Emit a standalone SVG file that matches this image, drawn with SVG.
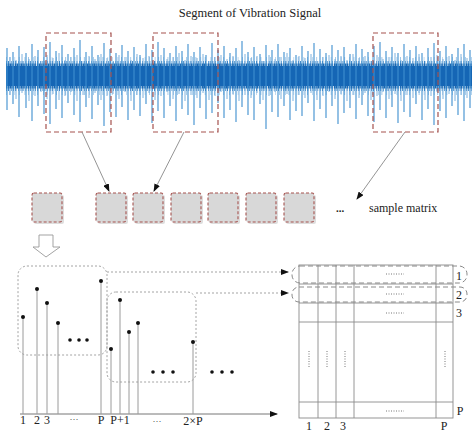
<svg xmlns="http://www.w3.org/2000/svg" width="474" height="432" viewBox="0 0 474 432">
<style>
.t{font-family:"Liberation Serif","Times New Roman",serif;fill:#222}
.sel{fill:none;stroke:#a5524f;stroke-width:1.2;stroke-dasharray:5 3}
.sq{fill:#d8d8d8;stroke:#a5524f;stroke-width:1.1;stroke-dasharray:3 2}
.sh{fill:#c8c8c8;opacity:.6}
.stem{stroke:#9a9a9a;stroke-width:1}
.dot{fill:#111}
.dr{fill:none;stroke:#9a9a9a;stroke-width:0.9;stroke-dasharray:2 2}
.mx{stroke:#8a8a8a;stroke-width:0.9;fill:none}
.rowsel{fill:none;stroke:#8a8a8a;stroke-width:1;stroke-dasharray:5 3}
.cd{stroke:#777;stroke-width:1;stroke-dasharray:1 1.5}
.conn{stroke:#888;stroke-width:0.9;fill:none}
</style>
<defs>
<marker id="ah" markerWidth="8" markerHeight="6" refX="7" refY="3" orient="auto" markerUnits="userSpaceOnUse">
<path d="M0,0 L8,3 L0,6 Z" fill="#111"/>
</marker>
</defs>
<rect width="474" height="432" fill="#fff"/>
<text class="t" x="250" y="17" font-size="12.5" text-anchor="middle">Segment of Vibration Signal</text>
<g id="signal">
<path fill="none" stroke="#5d9fd6" stroke-width="0.8" d="M10 57V95M16 60V99M22 54V93M29 59V101M35 56V96M41 61V92M47 55V99M53 58V94M59 53V100M65 60V96M71 57V92M77 55V101M83 61V95M89 56V98M95 59V93M101 54V100M107 58V96M113 62V94M119 55V99M125 57V92M131 60V101M137 54V95M143 58V98M149 56V93M155 61V100M161 55V96M167 59V92M173 57V99M179 53V94M185 60V101M191 56V95M197 58V98M203 54V93M209 61V100M215 57V96M221 55V92M227 59V99M233 56V94M239 60V101M245 54V95M251 58V98M257 56V93M263 61V100M269 55V96M275 59V92M281 57V99M287 53V94M293 60V101M299 56V95M305 58V98M311 54V93M317 61V100M323 57V96M329 55V92M335 59V99M341 56V94M347 60V101M353 54V95M359 58V98M365 56V93M371 61V100M377 55V96M383 59V92M389 57V99M395 53V94M401 60V101M407 56V95M413 58V98M419 54V93M425 61V100M431 57V96M437 55V92M443 59V99M449 56V94M455 60V101M461 54V95M467 58V98"/>
<line x1="6" y1="76" x2="472" y2="76" stroke="#6aa8dc" stroke-width="38" stroke-dasharray="0.6 2.9 0.8 4.3 0.5 3.7 0.7 5.1" opacity="0.8"/>
<line x1="6" y1="76" x2="472" y2="76" stroke="#2d7dc3" stroke-width="30" stroke-dasharray="0.7 1.3 0.9 2.1 0.6 1.7"/>
<line x1="6" y1="76" x2="472" y2="76" stroke="#1a68b2" stroke-width="25" stroke-dasharray="1.2 0.6 0.9 0.8 1.5 0.5"/>
<line x1="6" y1="76" x2="472" y2="76" stroke="#1566b5" stroke-width="20"/>
<path fill="none" stroke="#3f8fcf" stroke-width="1.1" d="M7 48V110M13 52V104M19 46V117M26 53V108M32 44V121M38 50V106M44 47V114M50 42V124M56 51V109M62 45V118M68 54V103M74 48V115M80 40V122M86 52V107M92 46V119M98 55V105M104 43V126M110 49V112M116 53V117M122 45V107M128 51V120M134 47V110M140 55V116M146 44V104M152 50V123M158 42V111M164 48V118M170 53V106M176 46V121M182 51V109M188 44V115M194 52V125M200 47V108M206 55V119M212 43V113M218 50V103M224 46V118M230 53V110M236 48V122M242 41V107M248 52V115M254 47V120M260 54V104M266 45V129M272 50V112M278 44V117M284 52V106M290 48V120M296 55V111M302 46V116M308 51V103M314 43V121M320 49V109M326 53V118M332 45V106M338 50V124M344 47V113M350 54V108M356 44V119M362 49V105M368 52V116M374 46V122M380 42V110M386 51V118M392 47V107M398 53V123M404 44V112M410 50V117M416 46V104M422 53V120M428 48V109M434 43V125M440 51V111M446 46V118M452 54V106M458 48V115M464 44V121M470 50V108"/>
</g>
<g id="windows">
<rect class="sel" x="46" y="33" width="65" height="99"/>
<rect class="sel" x="153" y="33" width="65" height="99"/>
<rect class="sel" x="373" y="33" width="65" height="99"/>
</g>
<g id="connectors">
<line class="conn" x1="82" y1="132" x2="109" y2="191" marker-end="url(#ah)"/>
<line class="conn" x1="184" y1="132" x2="154" y2="191" marker-end="url(#ah)"/>
<line class="conn" x1="405" y1="132" x2="357" y2="199" marker-end="url(#ah)"/>
<line x1="107" y1="272" x2="288" y2="272" stroke="#999" stroke-width="0.9" stroke-dasharray="2 2" marker-end="url(#ah)"/>
<line x1="196" y1="293" x2="288" y2="293" stroke="#999" stroke-width="0.9" stroke-dasharray="2 2" marker-end="url(#ah)"/>
</g>
<g id="samples">
<rect class="sh" x="34" y="195" width="30" height="29" rx="2"/>
<rect class="sq" x="32" y="193" width="30" height="29" rx="2"/>
<rect class="sh" x="98" y="195" width="30" height="29" rx="2"/>
<rect class="sq" x="96" y="193" width="30" height="29" rx="2"/>
<rect class="sh" x="135" y="195" width="30" height="29" rx="2"/>
<rect class="sq" x="133" y="193" width="30" height="29" rx="2"/>
<rect class="sh" x="173" y="195" width="30" height="29" rx="2"/>
<rect class="sq" x="171" y="193" width="30" height="29" rx="2"/>
<rect class="sh" x="210" y="195" width="30" height="29" rx="2"/>
<rect class="sq" x="208" y="193" width="30" height="29" rx="2"/>
<rect class="sh" x="248" y="195" width="30" height="29" rx="2"/>
<rect class="sq" x="246" y="193" width="30" height="29" rx="2"/>
<rect class="sh" x="286" y="195" width="30" height="29" rx="2"/>
<rect class="sq" x="284" y="193" width="30" height="29" rx="2"/>
<text class="t" x="340" y="212" font-size="11" text-anchor="middle" font-weight="bold">...</text>
<text class="t" x="369" y="212" font-size="12">sample matrix</text>
</g>
<g id="down-arrow">
<polygon points="39,235 53,235 53,247 60,247 46,257 33,247 39,247" fill="#fff" stroke="#999" stroke-width="0.9"/>
</g>
<g id="stem-plot">
<line x1="20" y1="414" x2="277" y2="414" stroke="#666" stroke-width="0.9" marker-end="url(#ah)"/>
<path class="stem" d="M23 317V414M37 289V414M47 303V414M58 323V414M101 281V414M111 349V414M120 300V414M129 332V414M138 323V414M193 342V414"/>
<circle class="dot" cx="23" cy="317" r="2"/>
<circle class="dot" cx="37" cy="289" r="2"/>
<circle class="dot" cx="47" cy="303" r="2"/>
<circle class="dot" cx="58" cy="323" r="2"/>
<circle class="dot" cx="101" cy="281" r="2"/>
<circle class="dot" cx="111" cy="349" r="2"/>
<circle class="dot" cx="120" cy="300" r="2"/>
<circle class="dot" cx="129" cy="332" r="2"/>
<circle class="dot" cx="138" cy="323" r="2"/>
<circle class="dot" cx="193" cy="342" r="2"/>
<circle class="dot" cx="70" cy="340" r="1.8"/>
<circle class="dot" cx="79" cy="340" r="1.8"/>
<circle class="dot" cx="87" cy="340" r="1.8"/>
<circle class="dot" cx="153" cy="372" r="1.8"/>
<circle class="dot" cx="163" cy="372" r="1.8"/>
<circle class="dot" cx="173" cy="372" r="1.8"/>
<circle class="dot" cx="212" cy="372" r="1.8"/>
<circle class="dot" cx="222" cy="372" r="1.8"/>
<circle class="dot" cx="232" cy="372" r="1.8"/>
<rect class="dr" x="18" y="266" width="89" height="89" rx="9"/>
<rect class="dr" x="107" y="292" width="89" height="90" rx="9"/>
<g class="t" font-size="12" text-anchor="middle">
<text x="23" y="424">1</text>
<text x="37" y="424">2</text>
<text x="47" y="424">3</text>
<text x="74" y="422" font-size="9">···</text>
<text x="101" y="424">P</text>
<text x="120" y="424">P+1</text>
<text x="157" y="424" font-size="9">···</text>
<text x="193" y="425">2×P</text>
</g>
</g>
<g id="matrix">
<rect class="mx" x="299" y="265" width="154" height="153"/>
<path class="mx" d="M318 265V418M336 265V418M354 265V418M436 265V418M299 284H453M299 303H453M299 322H453M299 402H453"/>
<rect class="rowsel" x="292" y="266" width="175" height="17" rx="8"/>
<rect class="rowsel" x="292" y="287" width="175" height="15" rx="7"/>
<path class="cd" d="M386 274H404M386 294H404M386 313H404M386 411H404M309 351V368M327 351V368M345 351V368M445 351V368"/>
<g class="t" font-size="12" text-anchor="middle">
<text x="459" y="280">1</text>
<text x="459" y="299">2</text>
<text x="459" y="317">3</text>
<text x="460" y="415">P</text>
<text x="309" y="430">1</text>
<text x="327" y="430">2</text>
<text x="343" y="430">3</text>
<text x="444" y="430">P</text>
</g>
</g>
</svg>
